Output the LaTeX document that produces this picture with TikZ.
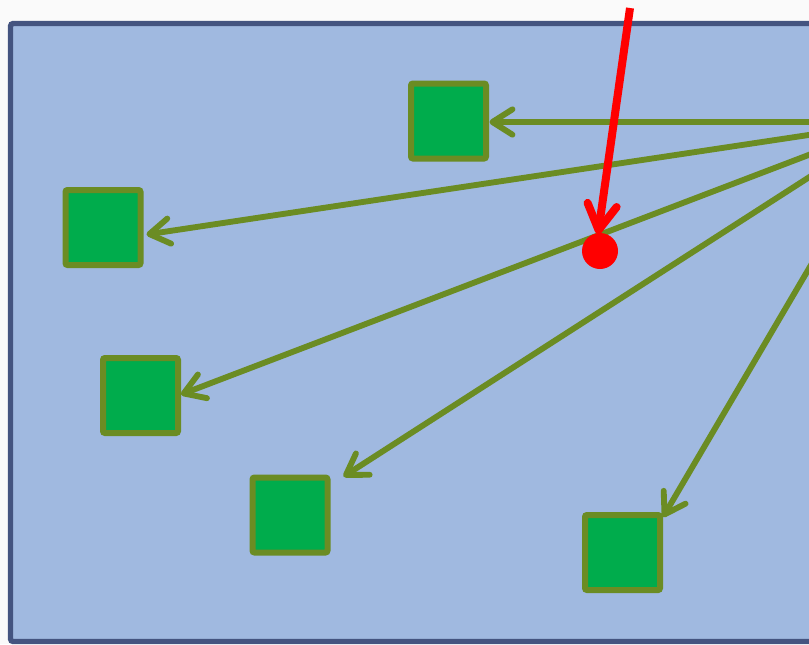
\documentclass[tikz,border=0pt]{standalone}
\usetikzlibrary{arrows.meta,calc}
\definecolor{panelfill}{RGB}{160,185,224}
\definecolor{panelline}{RGB}{68,84,128}
\definecolor{boxfill}{RGB}{0,172,76}
\definecolor{boxline}{RGB}{107,140,35}
\tikzset{
  box/.style={draw=boxline, fill=boxfill, line width=4.5pt, rounded corners=1.5pt,
              minimum size=56.25pt, inner sep=0pt},
  garrow/.style={draw=boxline, line width=4.4pt,
                 -{Straight Barb[round, length=15pt, width=19pt]}},
  rarrow/.style={draw=red, line width=6pt,
                 -{Straight Barb[round, length=19pt, width=22pt]}},
}
\begin{document}
\begin{tikzpicture}[x=0.75pt, y=-0.75pt]
  \useasboundingbox (0,0) rectangle (809,644);
  \fill[white!98!black] (0,0) rectangle (809,644);
  \begin{scope}
    \clip (0,0) rectangle (809,644);
    % panel
    \draw[panelline, fill=panelfill, line width=4pt, rounded corners=2pt]
      (10.5,23.5) rectangle (830,641.5);
    % boxes
    \node[box] (b1) at (448.5,121) {};
    \node[box] (b2) at (103,227.5) {};
    \node[box] (b3) at (140.5,395.5) {};
    \node[box] (b4) at (290,515) {};
    \node[box] (b5) at (622.5,552.5) {};
    % common source, outside the visible area
    \coordinate (src) at (895,122);
    \draw[garrow] (src) -- ($(b1.east)+(0.5,1)$);
    \draw[garrow] (src) -- ($(b2.east)+(3,7)$);
    \draw[garrow] (src) -- ($(b3.east)+(0,-1)$);
    \draw[garrow] (src) -- ($(b4.north east)+(13,2)$);
    \draw[garrow] (src) -- ($(b5.north east)+(0,5)$);
    % target marker
    \node[circle, fill=red, minimum size=27pt, inner sep=0pt] (dot) at (600,251) {};
    \coordinate (rtop) at (630,8);
    \draw[rarrow] (rtop) -- ($(dot.center)+(-2,-17)$);
  \end{scope}
\end{tikzpicture}
\end{document}
